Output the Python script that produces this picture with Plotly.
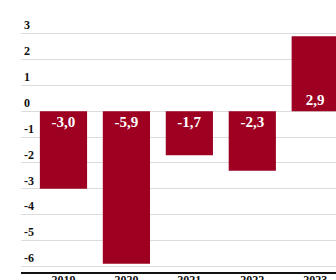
import plotly.graph_objects as go

years = ["2019", "2020", "2021", "2022", "2023"]
values = [-3.0, -5.9, -1.7, -2.3, 2.9]
y_ticks = [-6, -5, -4, -3, -2, -1, 0, 1, 2, 3]

fig = go.Figure(go.Bar(
    x=years, y=values,
    marker=dict(color="#9e0022", line=dict(width=0)),
    texttemplate="%{y:.1f}",
    textposition="inside",
    insidetextanchor="start",
    textfont=dict(family="Liberation Serif", size=15, color="white", weight="bold"),
    textangle=0,
))

fig.update_layout(
    width=336, height=280,
    margin=dict(l=21, r=0, t=12.6, b=8.3, autoexpand=False),
    paper_bgcolor="white", plot_bgcolor="white",
    bargap=0.25,
    separators=",.",
    showlegend=False,
    font=dict(family="Liberation Serif", color="#222"),
)
fig.update_xaxes(
    range=[-0.675, 4.33],
    showgrid=False,
    showline=True, linecolor="#111", linewidth=1.5,
    ticks="", automargin=False,
    ticklabelstandoff=-4,
    tickfont=dict(family="Liberation Serif", size=12, color="#111", weight="bold"),
)
fig.update_yaxes(
    range=[-6.22, 3.8],
    tickvals=y_ticks,
    ticktext=[str(v) for v in y_ticks],
    ticklabelposition="inside top",
    showgrid=True, gridcolor="#dcdcdc", gridwidth=1,
    zeroline=False, showline=False, ticks="", automargin=False,
    tickfont=dict(family="Liberation Serif", size=12, color="#111", weight="bold"),
)

fig.write_html("out.html", config={"displayModeBar": False},
               post_script="document.body.style.margin='0px';")
